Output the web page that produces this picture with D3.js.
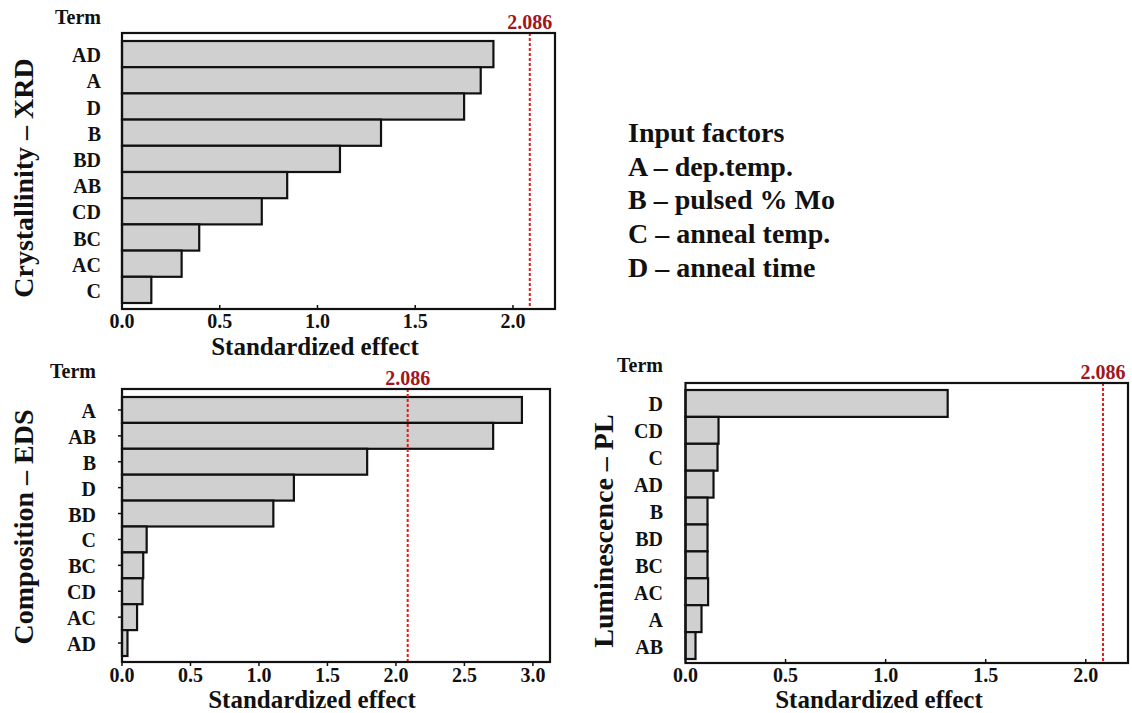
<!DOCTYPE html>
<html>
<head>
<meta charset="utf-8">
<script src="https://cdn.jsdelivr.net/npm/d3@7"></script>
<style>
  html, body { margin: 0; padding: 0; background: #fff; }
  svg text { font-family: "Times New Roman", "Liberation Serif", serif; font-weight: bold; }
</style>
</head>
<body>
<svg id="chart" width="1132" height="713"></svg>
<script>
// ---------------- DATA ----------------
const xrdTerms   = ["AD", "A", "D", "B", "BD", "AB", "CD", "BC", "AC", "C"];
const xrdEffects = [1.90, 1.835, 1.75, 1.325, 1.115, 0.845, 0.715, 0.395, 0.305, 0.15];

const edsTerms   = ["A", "AB", "B", "D", "BD", "C", "BC", "CD", "AC", "AD"];
const edsEffects = [2.92, 2.71, 1.79, 1.255, 1.105, 0.18, 0.155, 0.15, 0.11, 0.04];

const plTerms    = ["D", "CD", "C", "AD", "B", "BD", "BC", "AC", "A", "AB"];
const plEffects  = [1.31, 0.165, 0.16, 0.14, 0.11, 0.11, 0.11, 0.113, 0.08, 0.05];

const criticalValue = 2.086;
const criticalLabel = "2.086";

const xrdTicks = [0, 0.5, 1.0, 1.5, 2.0];
const edsTicks = [0, 0.5, 1.0, 1.5, 2.0, 2.5, 3.0];
const plTicks  = [0, 0.5, 1.0, 1.5, 2.0];

const xrdTitle = "Crystallinity \u2013 XRD";
const edsTitle = "Composition \u2013 EDS";
const plTitle  = "Luminescence \u2013 PL";
const xAxisTitle = "Standardized effect";
const termHeader = "Term";

const legendTitle = "Input factors";
const legendLines = ["A \u2013 dep.temp.", "B \u2013 pulsed % Mo", "C \u2013 anneal temp.", "D \u2013 anneal time"];

// ---------------- LAYOUT ----------------
const svg = d3.select("#chart");

const panels = [
  { terms: xrdTerms, values: xrdEffects, ticks: xrdTicks, title: xrdTitle, xMax: 2.215,
    fx0: 122, fx1: 555, fy0: 33, fy1: 309, by0: 41, by1: 303,
    termRight: 101, headBase: 24, yTitleX: 33, yTitleY: 178,
    tickBase: 328, xTitleX: 315, xTitleBase: 355, tickDir: -1, yTicks: false },
  { terms: edsTerms, values: edsEffects, ticks: edsTicks, title: edsTitle, xMax: 3.125,
    fx0: 122, fx1: 550, fy0: 389, fy1: 662, by0: 397, by1: 656,
    termRight: 96, headBase: 378, yTitleX: 33, yTitleY: 527,
    tickBase: 682, xTitleX: 312, xTitleBase: 708, tickDir: 1, yTicks: true },
  { terms: plTerms, values: plEffects, ticks: plTicks, title: plTitle, xMax: 2.211,
    fx0: 685.5, fx1: 1128, fy0: 383, fy1: 663, by0: 390, by1: 659,
    termRight: 663, headBase: 372, yTitleX: 613, yTitleY: 531,
    tickBase: 682, xTitleX: 879, xTitleBase: 708, tickDir: -1, yTicks: false }
];

panels.forEach(p => {
  const g = svg.append("g");
  const x = d3.scaleLinear().domain([0, p.xMax]).range([p.fx0, p.fx1]);
  const y = d3.scaleBand().domain(p.terms).range([p.by0, p.by1]).padding(0);
  const data = p.terms.map((t, i) => ({ term: t, value: p.values[i] }));

  // bars
  g.selectAll("rect.bar").data(data).enter().append("rect")
    .attr("class", "bar")
    .attr("x", x(0))
    .attr("y", d => y(d.term))
    .attr("width", d => x(d.value) - x(0))
    .attr("height", y.bandwidth())
    .attr("fill", "#d0d0d0")
    .attr("stroke", "#111")
    .attr("stroke-width", 2.2);

  // reference line
  g.append("line")
    .attr("x1", x(criticalValue)).attr("x2", x(criticalValue))
    .attr("y1", p.fy0).attr("y2", p.fy1)
    .attr("stroke", "#e21b1b").attr("stroke-width", 2)
    .attr("stroke-dasharray", "3,2");
  g.append("text")
    .attr("x", x(criticalValue)).attr("y", p.fy0 - 4)
    .attr("text-anchor", "middle")
    .attr("font-size", 20)
    .attr("fill", "#a0161c")
    .text(criticalLabel);

  // frame
  g.append("rect")
    .attr("x", p.fx0).attr("y", p.fy0)
    .attr("width", p.fx1 - p.fx0).attr("height", p.fy1 - p.fy0)
    .attr("fill", "none").attr("stroke", "#111").attr("stroke-width", 2.2);

  // x ticks
  g.selectAll("line.xt").data(p.ticks).enter().append("line")
    .attr("x1", d => x(d)).attr("x2", d => x(d))
    .attr("y1", p.fy1).attr("y2", p.fy1 + 4 * p.tickDir)
    .attr("stroke", "#111").attr("stroke-width", 1.5);
  g.selectAll("text.xt").data(p.ticks).enter().append("text")
    .attr("x", d => x(d)).attr("y", p.tickBase)
    .attr("text-anchor", "middle")
    .attr("font-size", 20)
    .attr("fill", "#111")
    .text(d => d3.format(".1f")(d));

  // y ticks
  if (p.yTicks) {
    g.selectAll("line.yt").data(p.terms).enter().append("line")
      .attr("x1", p.fx0).attr("x2", p.fx0 - 4)
      .attr("y1", d => y(d) + y.bandwidth() / 2)
      .attr("y2", d => y(d) + y.bandwidth() / 2)
      .attr("stroke", "#111").attr("stroke-width", 1.5);
  }

  // term labels
  g.selectAll("text.term").data(p.terms).enter().append("text")
    .attr("x", p.termRight)
    .attr("y", d => y(d) + y.bandwidth() / 2 + 8)
    .attr("text-anchor", "end")
    .attr("font-size", 20)
    .attr("fill", "#111")
    .text(d => d);

  // Term header
  g.append("text")
    .attr("x", p.termRight).attr("y", p.headBase)
    .attr("text-anchor", "end")
    .attr("font-size", 20)
    .attr("fill", "#111")
    .text(termHeader);

  // x title
  g.append("text")
    .attr("x", p.xTitleX).attr("y", p.xTitleBase)
    .attr("text-anchor", "middle")
    .attr("font-size", 25)
    .attr("fill", "#111")
    .text(xAxisTitle);

  // y title
  g.append("text")
    .attr("transform", `translate(${p.yTitleX},${p.yTitleY}) rotate(-90)`)
    .attr("text-anchor", "middle")
    .attr("font-size", 28)
    .attr("fill", "#111")
    .text(p.title);
});

// legend
const lg = svg.append("g");
lg.append("text")
  .attr("x", 628).attr("y", 142)
  .attr("font-size", 28)
  .attr("fill", "#111")
  .text(legendTitle);
lg.selectAll("text.li").data(legendLines).enter().append("text")
  .attr("x", 628)
  .attr("y", (d, i) => 175.5 + i * 33.7)
  .attr("font-size", 28)
  .attr("fill", "#111")
  .text(d => d);
</script>
</body>
</html>
